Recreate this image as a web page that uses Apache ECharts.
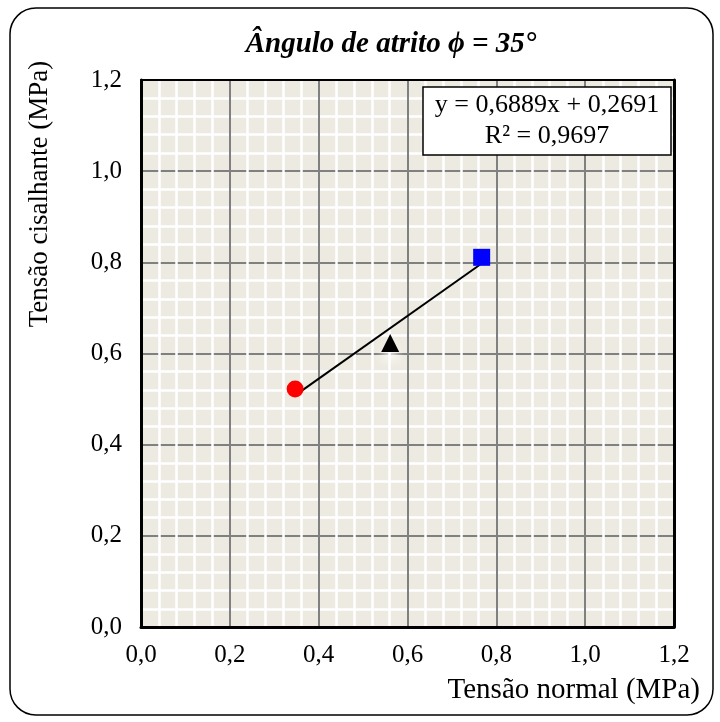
<!DOCTYPE html>
<html>
<head>
<meta charset="utf-8">
<script src="https://cdn.jsdelivr.net/npm/echarts@6/dist/echarts.min.js"></script>
<style>
  html, body { margin: 0; padding: 0; background: #ffffff; }
  #chart { width: 720px; height: 722px; }
</style>
</head>
<body>
<div id="chart"></div>
<script>
// Ensaio de cisalhamento direto: tensão normal x tensão cisalhante (MPa)
const pointNames   = ['Ensaio 1', 'Ensaio 2', 'Ensaio 3'];
const normalStress = [0.347, 0.561, 0.767];
const shearStress  = [0.522, 0.623, 0.811];
const pointSymbols = ['circle', 'triangle', 'rect'];
const pointColors  = ['#ff0000', '#000000', '#0000ff'];

// Reta de ajuste linear: y = a·x + b
const trendCoef = [0.6889, 0.2691];
const r2Value = 0.9697;

const axisTicks = [0, 0.2, 0.4, 0.6, 0.8, 1.0, 1.2];
const axisMin = axisTicks[0], axisMax = axisTicks[axisTicks.length - 1];

const serif = '"Liberation Serif", "Times New Roman", serif';
const fmt = v => v.toFixed(1).replace('.', ',');
const fmt4 = v => v.toFixed(4).replace('.', ',');

const xFit = [Math.min(...normalStress), Math.max(...normalStress)];
const trendData = xFit.map(x => [x, trendCoef[0] * x + trendCoef[1]]);

const pointSeries = normalStress.map((x, i) => ({
  name: pointNames[i],
  type: 'scatter',
  z: 6,
  symbol: pointSymbols[i],
  symbolSize: pointSymbols[i] === 'triangle' ? 18 : 17,
  itemStyle: pointSymbols[i] === 'triangle'
    ? { color: pointColors[i], opacity: 1, shadowColor: 'rgba(255,255,255,0.95)', shadowBlur: 10, shadowOffsetY: 7 }
    : { color: pointColors[i], opacity: 1 },
  emphasis: { disabled: true },
  data: [[x, shearStress[i]]]
}));

const chart = echarts.init(document.getElementById('chart'), null, { renderer: 'canvas' });

const gridSide = { left: 141, top: 80, right: 46, bottom: 95 };

function valueAxis(dir, z) {
  return {
    type: 'value',
    min: axisMin, max: axisMax, interval: 0.2,
    z: z,
    axisLine: { show: true, onZero: false, lineStyle: { color: '#000', width: 3 } },
    axisTick: { show: false },
    axisLabel: {
      show: true, formatter: fmt, color: '#000',
      fontFamily: serif, fontSize: 25,
      margin: dir === 'x' ? 16 : 19
    },
    splitLine: { show: true, showMinLine: false, showMaxLine: false, lineStyle: { color: '#808080', width: 2 } },
    minorTick: { show: false, splitNumber: 5 },
    minorSplitLine: { show: true, lineStyle: { color: '#ffffff', width: 2.5 } }
  };
}

function borderAxis(pos, w) {
  return {
    type: 'value', position: pos, min: axisMin, max: axisMax, interval: 0.2, z: 4,
    axisLine: { show: true, onZero: false, lineStyle: { color: '#000', width: w } },
    axisTick: { show: false }, axisLabel: { show: false },
    splitLine: { show: false }, minorSplitLine: { show: false }
  };
}

chart.setOption({
  animation: false,
  backgroundColor: '#ffffff',
  grid: Object.assign({ show: true, backgroundColor: '#edebe1', borderWidth: 0 }, gridSide),
  xAxis: [ Object.assign(valueAxis('x', 2), { position: 'bottom' }), borderAxis('top', 2) ],
  yAxis: [ Object.assign(valueAxis('y', 1), { position: 'left' }), borderAxis('right', 3) ],
  series: [
    {
      name: 'Ajuste linear',
      type: 'line',
      z: 5,
      symbol: 'none',
      lineStyle: { color: '#000', width: 2 },
      emphasis: { disabled: true },
      data: trendData
    },
    ...pointSeries
  ],
  graphic: [
    {
      type: 'rect', z: 0,
      shape: { x: 10, y: 8, width: 703, height: 707, r: 26 },
      style: { fill: 'none', stroke: '#000', lineWidth: 1.5 }
    },
    {
      type: 'text', z: 10,
      x: 391, y: 45,
      style: {
        text: 'Ângulo de atrito ϕ = 35°',
        font: 'italic bold 29px ' + serif,
        fill: '#000', align: 'center', verticalAlign: 'middle'
      }
    },
    {
      type: 'text', z: 10,
      x: 40, y: 194, rotation: Math.PI / 2,
      style: {
        text: 'Tensão cisalhante (MPa)',
        font: '27px ' + serif,
        fill: '#000', align: 'center', verticalAlign: 'middle'
      }
    },
    {
      type: 'text', z: 10,
      x: 700, y: 690,
      style: {
        text: 'Tensão normal (MPa)',
        font: '29px ' + serif,
        fill: '#000', align: 'right', verticalAlign: 'middle'
      }
    },
    {
      type: 'rect', z: 20,
      shape: { x: 423, y: 87, width: 248, height: 68 },
      style: { fill: '#ffffff', stroke: '#000', lineWidth: 1.5 }
    },
    {
      type: 'text', z: 21,
      x: 547, y: 121,
      style: {
        text: 'y = ' + fmt4(trendCoef[0]) + 'x + ' + fmt4(trendCoef[1]) + '\nR² = ' + fmt4(r2Value),
        font: '26px ' + serif, lineHeight: 31,
        fill: '#000', align: 'center', verticalAlign: 'middle'
      }
    }
  ]
});
</script>
</body>
</html>
